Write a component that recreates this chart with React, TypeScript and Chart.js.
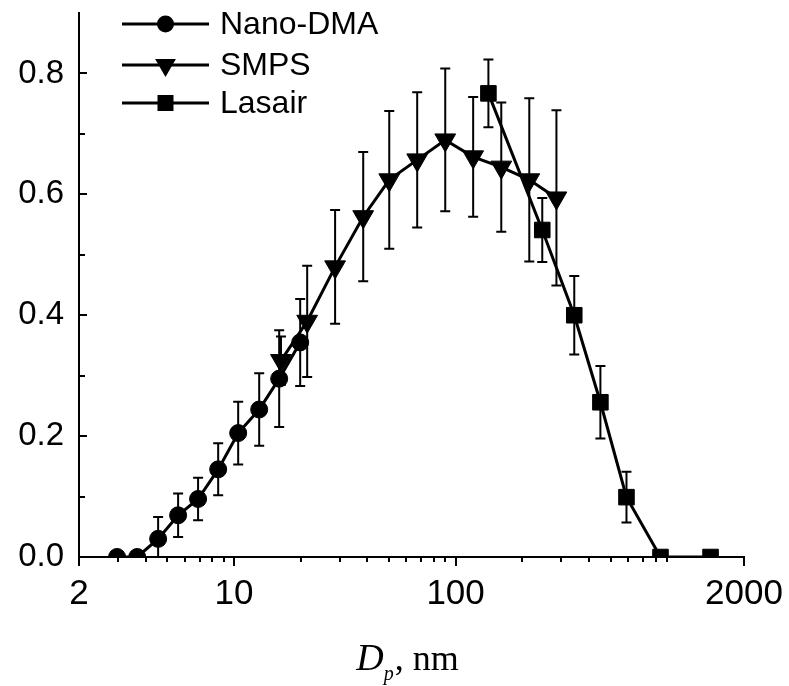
import React, { useEffect, useRef } from "react";
import { Chart, registerables } from "chart.js";

Chart.register(...registerables);

// ---- data ----
const nanoX = [2.97, 3.66, 4.55, 5.6, 6.89, 8.49, 10.45, 13.0, 16.0, 19.9];
const nanoY = [0, 0, 0.03, 0.069, 0.096, 0.145, 0.205, 0.244, 0.295, 0.355];
const nanoErr = [0, 0, 0.036, 0.036, 0.035, 0.043, 0.052, 0.06, 0.08, 0.072];

const smpsX = [16.3, 21.4, 28.6, 38.3, 50.2, 67.1, 89.8, 120, 160.7, 215, 285];
const smpsY = [0.325, 0.39, 0.48, 0.563, 0.624, 0.657, 0.69, 0.662, 0.645, 0.624, 0.594];
const smpsErr = [0.04, 0.092, 0.094, 0.107, 0.114, 0.112, 0.118, 0.099, 0.107, 0.135, 0.145];

const lasairX = [140.6, 246, 343, 450, 590, 840, 1413];
const lasairY = [0.767, 0.541, 0.4, 0.256, 0.099, 0, 0];
const lasairErr = [0.056, 0.053, 0.065, 0.06, 0.042, 0, 0];

const seriesNames = ["Nano-DMA", "SMPS", "Lasair"];
const xTickValues = [2, 10, 100, 2000];
const xMinorTicks = [3, 4, 5, 6, 7, 8, 9, 20, 30, 40, 50, 60, 70, 80, 90, 200, 300, 400, 500, 600, 700, 800, 900];
const yTickValues = [0, 0.2, 0.4, 0.6, 0.8];
const yMinorTicks = [0.1, 0.3, 0.5, 0.7];
const errors = [nanoErr, smpsErr, lasairErr];

const toPoints = (xs: number[], ys: number[]) => xs.map((x, i) => ({ x, y: ys[i] }));

const SANS = "Arial, 'Liberation Sans', sans-serif";
const SERIF = "'Times New Roman', 'Liberation Serif', serif";

function drawMarker(ctx: CanvasRenderingContext2D, style: string, x: number, y: number) {
  ctx.save();
  ctx.fillStyle = "#000";
  ctx.beginPath();
  if (style === "circle") {
    ctx.arc(x, y, 8.5, 0, Math.PI * 2);
  } else if (style === "triangle") {
    const r = 12;
    ctx.moveTo(x, y + r);
    ctx.lineTo(x - 0.866 * r, y - 0.5 * r);
    ctx.lineTo(x + 0.866 * r, y - 0.5 * r);
    ctx.closePath();
  } else {
    ctx.rect(x - 8, y - 8, 16, 16);
  }
  ctx.fill();
  ctx.restore();
}

const errorBarPlugin = {
  id: "errorBars",
  beforeDatasetsDraw(chart: any) {
    const ctx = chart.ctx as CanvasRenderingContext2D;
    const xs = chart.scales.x;
    const ys = chart.scales.y;
    const area = chart.chartArea;
    ctx.save();
    ctx.beginPath();
    ctx.rect(area.left - 20, area.top - 20, area.right - area.left + 40, area.bottom - area.top + 20);
    ctx.clip();
    ctx.strokeStyle = "#000";
    ctx.lineWidth = 2;
    chart.data.datasets.forEach((ds: any, di: number) => {
      const errs = errors[di];
      ds.data.forEach((p: any, i: number) => {
        const e = errs[i];
        if (!e) return;
        const px = xs.getPixelForValue(p.x);
        const top = ys.getPixelForValue(p.y + e);
        const bot = ys.getPixelForValue(p.y - e);
        ctx.beginPath();
        ctx.moveTo(px, top);
        ctx.lineTo(px, bot);
        ctx.moveTo(px - 5, top);
        ctx.lineTo(px + 5, top);
        ctx.moveTo(px - 5, bot);
        ctx.lineTo(px + 5, bot);
        ctx.stroke();
      });
    });
    ctx.restore();
  },
};

const decorPlugin = {
  id: "decor",
  afterDraw(chart: any) {
    const ctx = chart.ctx as CanvasRenderingContext2D;
    const xs = chart.scales.x;
    const ys = chart.scales.y;
    const area = chart.chartArea;
    ctx.save();
    ctx.strokeStyle = "#000";
    ctx.lineWidth = 2;
    // x ticks (outward)
    xTickValues.forEach((v) => {
      const px = Math.round(xs.getPixelForValue(v));
      ctx.beginPath();
      ctx.moveTo(px, area.bottom);
      ctx.lineTo(px, area.bottom + 9);
      ctx.stroke();
    });
    xMinorTicks.forEach((v) => {
      const px = Math.round(xs.getPixelForValue(v));
      ctx.beginPath();
      ctx.moveTo(px, area.bottom);
      ctx.lineTo(px, area.bottom + 5);
      ctx.stroke();
    });
    // y ticks (inward)
    yTickValues.forEach((v) => {
      const py = Math.round(ys.getPixelForValue(v));
      ctx.beginPath();
      ctx.moveTo(area.left, py);
      ctx.lineTo(area.left + 8, py);
      ctx.stroke();
    });
    yMinorTicks.forEach((v) => {
      const py = Math.round(ys.getPixelForValue(v));
      ctx.beginPath();
      ctx.moveTo(area.left, py);
      ctx.lineTo(area.left + 6, py);
      ctx.stroke();
    });

    // legend
    const styles = ["circle", "triangle", "rect"];
    const rowY = [24, 65, 103];
    const lx0 = area.left + 43;
    const lx1 = area.left + 130;
    ctx.font = `32px ${SANS}`;
    ctx.textBaseline = "middle";
    ctx.textAlign = "left";
    ctx.fillStyle = "#000";
    seriesNames.forEach((name, i) => {
      const y = rowY[i];
      ctx.lineWidth = 3;
      ctx.beginPath();
      ctx.moveTo(lx0, y);
      ctx.lineTo(lx1, y);
      ctx.stroke();
      drawMarker(ctx, styles[i], (lx0 + lx1) / 2, y);
      ctx.fillStyle = "#000";
      ctx.fillText(name, lx1 + 11, y + 1);
    });

    // x axis title: D_p, nm
    const big = `italic 38px ${SERIF}`;
    const sub = `italic 20px ${SERIF}`;
    const rest = `36px ${SERIF}`;
    ctx.textBaseline = "alphabetic";
    ctx.font = big;
    const wD = ctx.measureText("D").width;
    ctx.font = sub;
    const wp = ctx.measureText("p").width;
    ctx.font = rest;
    const wr = ctx.measureText(", nm").width;
    const total = wD + wp + 1 + wr;
    const cx = (area.left + area.right) / 2 - 4;
    let x = cx - total / 2;
    const base = 670;
    ctx.font = big;
    ctx.fillText("D", x, base);
    x += wD;
    ctx.font = sub;
    ctx.fillText("p", x, base + 10);
    x += wp + 1;
    ctx.font = rest;
    ctx.fillText(", nm", x, base);
    ctx.restore();
  },
};

export default function App() {
  const ref = useRef<HTMLCanvasElement | null>(null);
  useEffect(() => {
    if (!ref.current) return;
    const common = {
      borderColor: "#000",
      backgroundColor: "#000",
      pointBackgroundColor: "#000",
      pointBorderColor: "#000",
      borderWidth: 3,
      pointBorderWidth: 1,
      showLine: true,
      tension: 0,
      clip: { left: 20, right: 20, top: 20, bottom: 0 },
    };
    const chart = new Chart(ref.current, {
      type: "scatter",
      data: {
        datasets: [
          { ...common, label: seriesNames[0], data: toPoints(nanoX, nanoY), pointStyle: "circle", pointRadius: 8.5 },
          { ...common, label: seriesNames[1], data: toPoints(smpsX, smpsY), pointStyle: "triangle", pointRotation: 180, pointRadius: 12 },
          { ...common, label: seriesNames[2], data: toPoints(lasairX, lasairY), pointStyle: "rect", pointRadius: 11 },
        ],
      },
      options: {
        animation: false,
        responsive: false,
        maintainAspectRatio: false,
        layout: { padding: { left: 0, right: 45, top: 13, bottom: 0 } },
        plugins: { legend: { display: false }, tooltip: { enabled: false } },
        scales: {
          x: {
            type: "logarithmic",
            min: 2,
            max: 2000,
            grid: { display: false, drawTicks: false },
            border: { display: true, color: "#000", width: 2 },
            afterBuildTicks: (scale: any) => {
              scale.ticks = xTickValues.map((v) => ({ value: v }));
            },
            afterFit: (scale: any) => {
              scale.height = 129;
              scale.paddingLeft = 0;
              scale.paddingRight = 0;
            },
            ticks: {
              autoSkip: false,
              maxRotation: 0,
              color: "#000",
              padding: 16,
              font: { family: SANS, size: 35 },
              callback: (v: any) => String(v),
            },
          },
          y: {
            min: 0,
            max: 0.9,
            grid: { display: false, drawTicks: false },
            border: { display: true, color: "#000", width: 2 },
            afterBuildTicks: (scale: any) => {
              scale.ticks = yTickValues.map((v) => ({ value: v }));
            },
            afterFit: (scale: any) => {
              scale.width = 79;
              scale.paddingTop = 0;
              scale.paddingBottom = 0;
            },
            ticks: {
              color: "#000",
              padding: 15,
              font: { family: SANS, size: 33 },
              callback: (v: any) => Number(v).toFixed(1),
            },
          },
        },
      },
      plugins: [errorBarPlugin, decorPlugin],
    } as any);
    return () => chart.destroy();
  }, []);
  return (
    <div style={{ position: "fixed", left: 0, top: 0, width: 789, height: 686, background: "#fff" }}>
      <canvas ref={ref} width={789} height={686} />
    </div>
  );
}
